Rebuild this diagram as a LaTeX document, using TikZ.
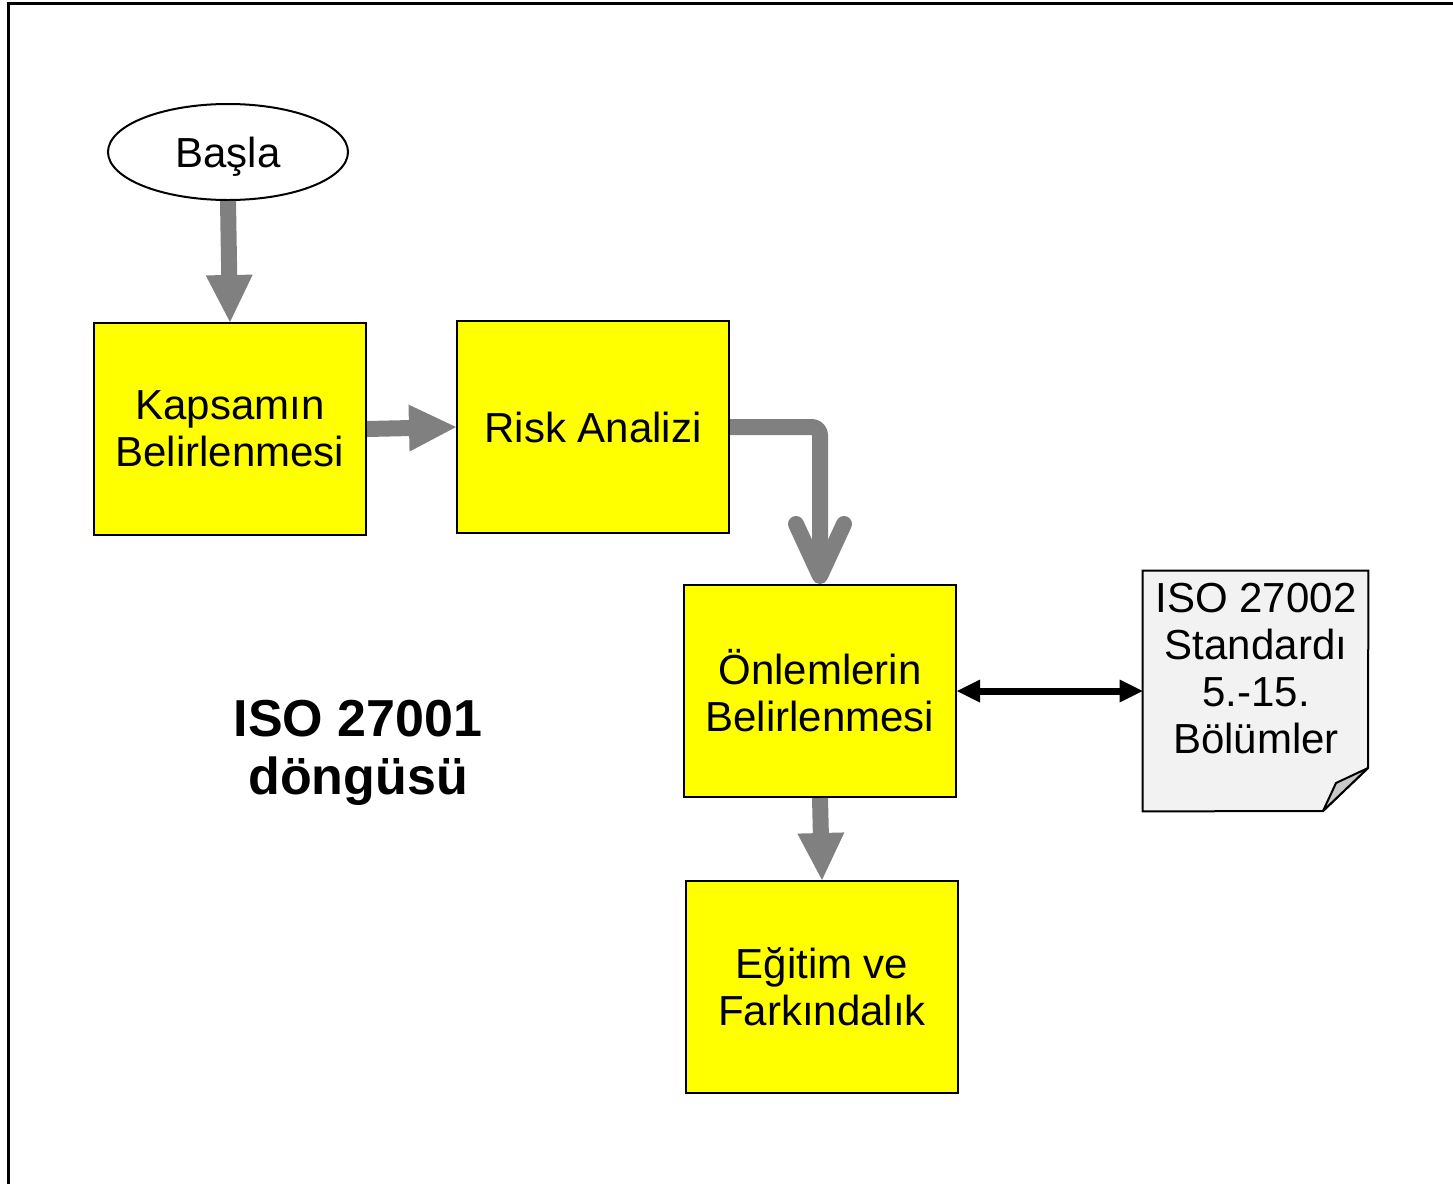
\documentclass[tikz,border=0pt]{standalone}
\usepackage{fontspec}
\setmainfont{Liberation Sans}
\usetikzlibrary{shapes.geometric,arrows.meta}
\definecolor{arrowgray}{HTML}{808080}
\definecolor{docfill}{HTML}{F2F2F2}
\definecolor{foldfill}{HTML}{C8C8C8}
\definecolor{boxyellow}{RGB}{255,255,0}
\begin{document}
\begin{tikzpicture}[x=0.5pt,y=-0.5pt,
  box/.style={draw=black, line width=1pt, fill=boxyellow, minimum width=136pt, minimum height=106pt,
    inner sep=0pt, align=center, font=\fontsize{21}{23.5}\selectfont},
  startnode/.style={draw=black, line width=1pt, ellipse, minimum width=120pt, minimum height=48pt,
    inner sep=0pt, text height=19pt, text depth=4pt, font=\fontsize{21}{23.5}\selectfont},
  blockarrow/.style={draw=arrowgray, line width=8pt, -{Triangle[length=23.5pt,width=23.5pt,line width=0pt]}},
  elbowarrow/.style={draw=arrowgray, line width=8pt, line join=round, rounded corners=4pt,
    -{Straight Barb[round,length=26pt,width=24pt]}},
  linkarrow/.style={draw=black, line width=3.5pt, {Triangle[length=11.5pt,width=11.5pt,line width=0pt]}-{Triangle[length=11.5pt,width=11.5pt,line width=0pt]}},
  doctext/.style={align=center, inner sep=0pt, font=\fontsize{21}{23.5}\selectfont},
  frameline/.style={draw=black, line width=1.2pt}
]
\useasboundingbox (0,0) rectangle (1453,1184);
% frame
\coordinate (frameR) at (1453,3.5);
\coordinate (frameTL) at (8.5,3.5);
\coordinate (frameB) at (8.5,1184);
\draw[frameline] (frameR) -- (frameTL) -- (frameB);

% nodes
\node[startnode] (basla) at (228,152) {Başla};
\node[box] (kaps) at (230,429) {Kapsamın\\Belirlenmesi};
\node[box] (risk) at (593,427) {Risk Analizi};
\node[box] (onl) at (820,691) {Önlemlerin\\Belirlenmesi};
\node[box] (egt) at (822,987) {Eğitim ve\\Farkındalık};

% document shape
\node[minimum width=112.5pt, minimum height=120pt, inner sep=0pt] (doc) at (1255.5,691) {};
\coordinate (foldA) at (1368,768);
\coordinate (foldB) at (1323,811);
\coordinate (foldC) at (1336,783);
\draw[line width=1pt, fill=docfill, line join=miter]
  (doc.north west) -- (doc.north east) -- (foldA) -- (foldB) -- (doc.south west) -- cycle;
\draw[line width=1pt, fill=foldfill, line join=round] (foldA) -- (foldC) -- (foldB) -- cycle;
\node[doctext] (doclabel) at (1256,669) {ISO 27002\\Standardı\\5.-15.\\Bölümler};

% title
\node[align=center, inner sep=0pt, font=\bfseries\fontsize{26}{29}\selectfont] (title) at (358,753) {ISO 27001\\döngüsü};

% connectors
\draw[blockarrow] (basla.south) -- (kaps.north);
\draw[blockarrow] (kaps.east) -- (risk.west);
\draw[elbowarrow] (risk.east) -| (onl.north);
\draw[blockarrow] (onl.south) -- (egt.north);
\draw[linkarrow] (onl.east) -- (doc.west);
\end{tikzpicture}
\end{document}
